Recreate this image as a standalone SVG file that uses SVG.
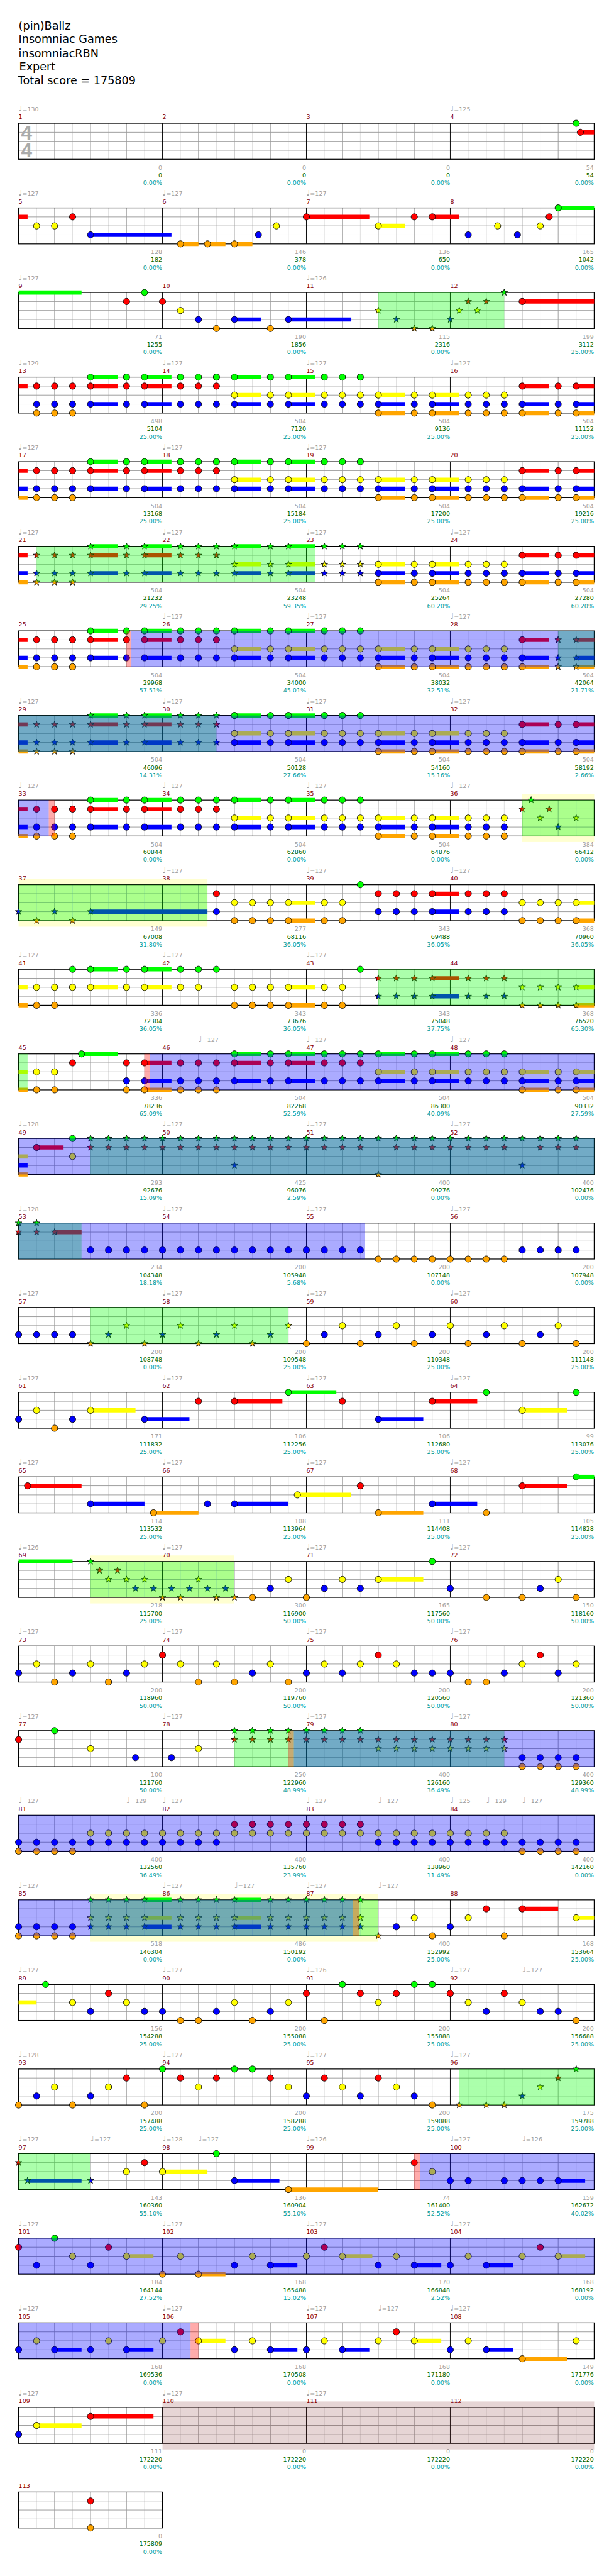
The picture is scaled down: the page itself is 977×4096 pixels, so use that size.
<svg xmlns="http://www.w3.org/2000/svg" xmlns:xlink="http://www.w3.org/1999/xlink" width="977" height="4096" viewBox="0 0 977 4096">
<style>
text{font-family:"DejaVu Sans","Liberation Sans",sans-serif;font-size:10px}
.h{font-size:18.5px;fill:#000}
.tp{fill:#a0a0a0}
.q{font-size:13px}
.mn{fill:#8b0000}
.s1{fill:#a0a0a0;text-anchor:end}
.s2{fill:#006400;text-anchor:end}
.s3{fill:#009b9b;text-anchor:end}
.ts{font-family:"Liberation Sans",sans-serif;font-weight:bold;font-size:33px;fill:#aaa}
.l3{stroke:#dcdcdc;stroke-width:1;fill:none}
.l2{stroke:#9a9a9a;stroke-width:1;fill:none}
.l1{stroke:#000;stroke-width:1;fill:none}
.bd{stroke:#000;stroke-width:1.3;fill:none}
.n{stroke:#000;stroke-width:.9}
.sG{stroke:#0f0;stroke-width:7;fill:none}
.sR{stroke:#f00;stroke-width:7;fill:none}
.sY{stroke:#ff0;stroke-width:7;fill:none}
.sB{stroke:#00f;stroke-width:7;fill:none}
.sO{stroke:#ffa500;stroke-width:7;fill:none}
.og{fill:#0f0;opacity:.33}
.ob{fill:#00f;opacity:.33}
.orr{fill:#f00;opacity:.33}
.oy{fill:#ff0;opacity:.18}
.obr{fill:#822d2d;opacity:.2}
</style>
<defs>
<g id="staff">
<path class="l3" d="M30 0V60M90 0V60M150 0V60M210 0V60M270 0V60M330 0V60M390 0V60M450 0V60M510 0V60M570 0V60M630 0V60M690 0V60M750 0V60M810 0V60M870 0V60M930 0V60"/>
<path class="l2" d="M60 0V60M120 0V60M180 0V60M300 0V60M360 0V60M420 0V60M540 0V60M600 0V60M660 0V60M780 0V60M840 0V60M900 0V60M0 15H960M0 30H960M0 45H960"/>
<path class="l1" d="M240 0V60M480 0V60M720 0V60"/>
<rect class="bd" width="960" height="60"/>
</g>
<g id="staff1">
<path class="l3" d="M30 0V60M90 0V60M150 0V60M210 0V60"/>
<path class="l2" d="M60 0V60M120 0V60M180 0V60M0 15H240M0 30H240M0 45H240"/>
<rect class="bd" width="240" height="60"/>
</g>
<circle id="G" class="n" r="5.3" fill="#0f0"/>
<circle id="R" class="n" cy="15" r="5.3" fill="#f00"/>
<circle id="Y" class="n" cy="30" r="5.3" fill="#ff0"/>
<circle id="B" class="n" cy="45" r="5.3" fill="#00f"/>
<circle id="O" class="n" cy="60" r="5.3" fill="#ffa500"/>
<polygon id="st" class="n" stroke-width=".7" points="0,-5.8 1.37,-1.87 5.52,-1.79 2.2,0.71 3.41,4.69 0,2.32 -3.41,4.69 -2.2,0.71 -5.52,-1.79 -1.37,-1.87"/>
<use id="g" href="#st" fill="#0f0"/>
<use id="r" href="#st" y="15" fill="#f00"/>
<use id="y" href="#st" y="30" fill="#ff0"/>
<use id="b" href="#st" y="45" fill="#00f"/>
<use id="o" href="#st" y="60" fill="#ffa500"/>
<g id="RBO"><use href="#R"/><use href="#B"/><use href="#O"/></g>
<g id="GRB"><use href="#G"/><use href="#R"/><use href="#B"/></g>
<g id="GYB"><use href="#G"/><use href="#Y"/><use href="#B"/></g>
<g id="YBO"><use href="#Y"/><use href="#B"/><use href="#O"/></g>
<g id="YO"><use href="#Y"/><use href="#O"/></g>
<g id="RB"><use href="#R"/><use href="#B"/></g>
<g id="GY"><use href="#G"/><use href="#Y"/></g>
<g id="BO"><use href="#B"/><use href="#O"/></g>
<g id="YB"><use href="#Y"/><use href="#B"/></g>
<g id="RY"><use href="#R"/><use href="#Y"/></g>
<g id="rbo"><use href="#r"/><use href="#b"/><use href="#o"/></g>
<g id="grb"><use href="#g"/><use href="#r"/><use href="#b"/></g>
<g id="gyb"><use href="#g"/><use href="#y"/><use href="#b"/></g>
<g id="yo"><use href="#y"/><use href="#o"/></g>
<g id="rb"><use href="#r"/><use href="#b"/></g>
<g id="gr"><use href="#g"/><use href="#r"/></g>
<g id="ry"><use href="#r"/><use href="#y"/></g>
<g id="st0"><path class="sR" d="M0 15H15"/><path class="sB" d="M0 45H15"/><path class="sO" d="M0 60H15"/></g>
<g id="c1"><use href="#RBO" x="30"/><use href="#RBO" x="60"/><use href="#RBO" x="90"/></g>
<g id="s1"><use href="#rbo" x="30"/><use href="#rbo" x="60"/><use href="#rbo" x="90"/></g>
<g id="u2"><path class="sG" d="M120 0H165M210 0H255"/><path class="sR" d="M120 15H165M210 15H255"/><path class="sB" d="M120 45H165M210 45H255"/></g>
<g id="c2"><use href="#u2"/><use href="#GRB" x="120"/><use href="#GRB" x="180"/><use href="#GRB" x="210"/><use href="#GRB" x="270"/><use href="#GRB" x="300"/><use href="#GRB" x="330"/></g>
<g id="s2"><use href="#u2"/><use href="#grb" x="120"/><use href="#grb" x="180"/><use href="#grb" x="210"/><use href="#grb" x="270"/><use href="#grb" x="300"/><use href="#grb" x="330"/></g>
<g id="u3"><path class="sG" d="M360 0H405M450 0H495"/><path class="sY" d="M360 30H405M450 30H495"/><path class="sB" d="M360 45H405M450 45H495"/></g>
<g id="c3"><use href="#u3"/><use href="#GYB" x="360"/><use href="#GYB" x="420"/><use href="#GYB" x="450"/><use href="#GYB" x="510"/><use href="#GYB" x="540"/><use href="#GYB" x="570"/></g>
<g id="s3"><use href="#u3"/><use href="#gyb" x="360"/><use href="#gyb" x="420"/><use href="#gyb" x="450"/><use href="#gyb" x="510"/><use href="#gyb" x="540"/><use href="#gyb" x="570"/></g>
<g id="c4"><path class="sY" d="M600 30H645M690 30H735"/><path class="sB" d="M600 45H645M690 45H735"/><path class="sO" d="M600 60H645M690 60H735"/><use href="#YBO" x="600"/><use href="#YBO" x="660"/><use href="#YBO" x="690"/><use href="#YBO" x="750"/><use href="#YBO" x="780"/><use href="#YBO" x="810"/></g>
<g id="u5"><path class="sR" d="M840 15H885M930 15H960"/><path class="sB" d="M840 45H885M930 45H960"/><path class="sO" d="M840 60H885M930 60H960"/></g>
<g id="c5"><use href="#u5"/><use href="#RBO" x="840"/><use href="#RBO" x="900"/><use href="#RBO" x="930"/></g>
</defs>
<rect width="977" height="4096" fill="#fff"/>
<g transform="scale(0.954)">
<g id="header">
<text class="h" x="31" y="49.3">(pin)Ballz</text>
<text class="h" x="31" y="71.7">Insomniac Games</text>
<text class="h" x="31" y="95">insomniacRBN</text>
<text class="h" x="32" y="117.7">Expert</text>
<text class="h" x="30" y="140.7">Total score = 175809</text>
</g>

<g id="row-m1" transform="translate(31,205.5)">
<use href="#staff"/>
<text class="ts" x="4" y="26.8">4</text><text class="ts" x="4" y="56.8">4</text>
<text class="mn" x="0" y="-7">1</text><text class="mn" x="240" y="-7">2</text><text class="mn" x="480" y="-7">3</text><text class="mn" x="720" y="-7">4</text>
<text class="tp" x="0" y="-20"><tspan class="q">♩</tspan>=130</text><text class="tp" x="720" y="-20"><tspan class="q">♩</tspan>=125</text>
<path class="sR" d="M937 15H960"/>
<use href="#G" x="930"/><use href="#R" x="937"/>
<text class="s1" x="239.5" y="77">0</text><text class="s2" x="239.5" y="90">0</text><text class="s3" x="239.5" y="103">0.00%</text>
<text class="s1" x="479.5" y="77">0</text><text class="s2" x="479.5" y="90">0</text><text class="s3" x="479.5" y="103">0.00%</text>
<text class="s1" x="719.5" y="77">0</text><text class="s2" x="719.5" y="90">0</text><text class="s3" x="719.5" y="103">0.00%</text>
<text class="s1" x="959.5" y="77">54</text><text class="s2" x="959.5" y="90">54</text><text class="s3" x="959.5" y="103">0.00%</text>
</g>

<g id="row-m5" transform="translate(31,346.5)">
<use href="#staff"/>
<text class="mn" x="0" y="-7">5</text><text class="mn" x="240" y="-7">6</text><text class="mn" x="480" y="-7">7</text><text class="mn" x="720" y="-7">8</text>
<text class="tp" x="0" y="-20"><tspan class="q">♩</tspan>=127</text><text class="tp" x="240" y="-20"><tspan class="q">♩</tspan>=127</text><text class="tp" x="480" y="-20"><tspan class="q">♩</tspan>=127</text>
<path class="sR" d="M0 15H15M480 15H585M690 15H735"/>
<path class="sY" d="M600 30H645"/>
<path class="sB" d="M120 45H255"/>
<path class="sO" d="M270 60H300M315 60H345M360 60H390"/>
<path class="sG" d="M900 0H960"/>
<use href="#Y" x="30"/><use href="#Y" x="60"/><use href="#R" x="90"/><use href="#B" x="120"/><use href="#O" x="270"/><use href="#O" x="315"/><use href="#O" x="360"/><use href="#B" x="400"/><use href="#Y" x="430"/><use href="#R" x="480"/><use href="#Y" x="600"/><use href="#R" x="660"/><use href="#R" x="690"/><use href="#B" x="750"/><use href="#Y" x="799"/><use href="#B" x="832"/><use href="#Y" x="870"/><use href="#R" x="885"/><use href="#G" x="900"/>
<text class="s1" x="239.5" y="77">128</text><text class="s2" x="239.5" y="90">182</text><text class="s3" x="239.5" y="103">0.00%</text>
<text class="s1" x="479.5" y="77">146</text><text class="s2" x="479.5" y="90">378</text><text class="s3" x="479.5" y="103">0.00%</text>
<text class="s1" x="719.5" y="77">136</text><text class="s2" x="719.5" y="90">650</text><text class="s3" x="719.5" y="103">0.00%</text>
<text class="s1" x="959.5" y="77">165</text><text class="s2" x="959.5" y="90">1042</text><text class="s3" x="959.5" y="103">0.00%</text>
</g>

<g id="row-m9" transform="translate(31,487.5)">
<use href="#staff"/>
<text class="mn" x="0" y="-7">9</text><text class="mn" x="240" y="-7">10</text><text class="mn" x="480" y="-7">11</text><text class="mn" x="720" y="-7">12</text>
<text class="tp" x="0" y="-20"><tspan class="q">♩</tspan>=127</text><text class="tp" x="480" y="-20"><tspan class="q">♩</tspan>=126</text>
<path class="sG" d="M0 0H105"/>
<path class="sB" d="M360 45H405M450 45H555"/>
<path class="sR" d="M840 15H960"/>
<use href="#R" x="180"/><use href="#G" x="210"/><use href="#R" x="240"/><use href="#Y" x="270"/><use href="#B" x="300"/><use href="#O" x="330"/><use href="#B" x="360"/><use href="#O" x="420"/><use href="#B" x="450"/>
<use href="#y" x="600"/><use href="#b" x="630"/><use href="#o" x="660"/><use href="#o" x="690"/><use href="#b" x="720"/><use href="#y" x="735"/><use href="#r" x="750"/><use href="#y" x="765"/><use href="#r" x="780"/><use href="#g" x="810"/>
<use href="#R" x="840"/>
<rect class="og" x="600" width="210" height="60"/>
<text class="s1" x="239.5" y="77">71</text><text class="s2" x="239.5" y="90">1255</text><text class="s3" x="239.5" y="103">0.00%</text>
<text class="s1" x="479.5" y="77">190</text><text class="s2" x="479.5" y="90">1856</text><text class="s3" x="479.5" y="103">0.00%</text>
<text class="s1" x="719.5" y="77">115</text><text class="s2" x="719.5" y="90">2316</text><text class="s3" x="719.5" y="103">0.00%</text>
<text class="s1" x="959.5" y="77">199</text><text class="s2" x="959.5" y="90">3112</text><text class="s3" x="959.5" y="103">25.00%</text>
</g>

<g id="row-m13" transform="translate(31,628.5)">
<use href="#staff"/>
<text class="mn" x="0" y="-7">13</text><text class="mn" x="240" y="-7">14</text><text class="mn" x="480" y="-7">15</text><text class="mn" x="720" y="-7">16</text>
<text class="tp" x="0" y="-20"><tspan class="q">♩</tspan>=129</text><text class="tp" x="240" y="-20"><tspan class="q">♩</tspan>=127</text><text class="tp" x="480" y="-20"><tspan class="q">♩</tspan>=127</text><text class="tp" x="720" y="-20"><tspan class="q">♩</tspan>=127</text>
<path class="sR" d="M0 15H15"/>
<use href="#c1"/><use href="#c2"/><use href="#c3"/><use href="#c4"/><use href="#c5"/>
<text class="s1" x="239.5" y="77">498</text><text class="s2" x="239.5" y="90">5104</text><text class="s3" x="239.5" y="103">25.00%</text>
<text class="s1" x="479.5" y="77">504</text><text class="s2" x="479.5" y="90">7120</text><text class="s3" x="479.5" y="103">25.00%</text>
<text class="s1" x="719.5" y="77">504</text><text class="s2" x="719.5" y="90">9136</text><text class="s3" x="719.5" y="103">25.00%</text>
<text class="s1" x="959.5" y="77">504</text><text class="s2" x="959.5" y="90">11152</text><text class="s3" x="959.5" y="103">25.00%</text>
</g>

<g id="row-m17" transform="translate(31,769.5)">
<use href="#staff"/>
<text class="mn" x="0" y="-7">17</text><text class="mn" x="240" y="-7">18</text><text class="mn" x="480" y="-7">19</text><text class="mn" x="720" y="-7">20</text>
<text class="tp" x="0" y="-20"><tspan class="q">♩</tspan>=127</text><text class="tp" x="240" y="-20"><tspan class="q">♩</tspan>=127</text><text class="tp" x="480" y="-20"><tspan class="q">♩</tspan>=127</text>
<use href="#st0"/><use href="#c1"/><use href="#c2"/><use href="#c3"/><use href="#c4"/><use href="#c5"/>
<text class="s1" x="239.5" y="77">504</text><text class="s2" x="239.5" y="90">13168</text><text class="s3" x="239.5" y="103">25.00%</text>
<text class="s1" x="479.5" y="77">504</text><text class="s2" x="479.5" y="90">15184</text><text class="s3" x="479.5" y="103">25.00%</text>
<text class="s1" x="719.5" y="77">504</text><text class="s2" x="719.5" y="90">17200</text><text class="s3" x="719.5" y="103">25.00%</text>
<text class="s1" x="959.5" y="77">504</text><text class="s2" x="959.5" y="90">19216</text><text class="s3" x="959.5" y="103">25.00%</text>
</g>

<g id="row-m21" transform="translate(31,910.5)">
<use href="#staff"/>
<text class="mn" x="0" y="-7">21</text><text class="mn" x="240" y="-7">22</text><text class="mn" x="480" y="-7">23</text><text class="mn" x="720" y="-7">24</text>
<text class="tp" x="0" y="-20"><tspan class="q">♩</tspan>=127</text><text class="tp" x="240" y="-20"><tspan class="q">♩</tspan>=127</text><text class="tp" x="480" y="-20"><tspan class="q">♩</tspan>=127</text><text class="tp" x="720" y="-20"><tspan class="q">♩</tspan>=127</text>
<use href="#st0"/><use href="#s1"/><use href="#s2"/><use href="#s3"/><use href="#c4"/><use href="#c5"/>
<rect class="og" x="30" width="465" height="60"/>
<text class="s1" x="239.5" y="77">504</text><text class="s2" x="239.5" y="90">21232</text><text class="s3" x="239.5" y="103">29.25%</text>
<text class="s1" x="479.5" y="77">504</text><text class="s2" x="479.5" y="90">23248</text><text class="s3" x="479.5" y="103">59.35%</text>
<text class="s1" x="719.5" y="77">504</text><text class="s2" x="719.5" y="90">25264</text><text class="s3" x="719.5" y="103">60.20%</text>
<text class="s1" x="959.5" y="77">504</text><text class="s2" x="959.5" y="90">27280</text><text class="s3" x="959.5" y="103">60.20%</text>
</g>

<g id="row-m25" transform="translate(31,1051.5)">
<use href="#staff"/>
<text class="mn" x="0" y="-7">25</text><text class="mn" x="240" y="-7">26</text><text class="mn" x="480" y="-7">27</text><text class="mn" x="720" y="-7">28</text>
<text class="tp" x="240" y="-20"><tspan class="q">♩</tspan>=127</text><text class="tp" x="480" y="-20"><tspan class="q">♩</tspan>=127</text><text class="tp" x="720" y="-20"><tspan class="q">♩</tspan>=127</text>
<use href="#st0"/><use href="#c1"/><use href="#c2"/><use href="#c3"/><use href="#c4"/><use href="#u5"/>
<use href="#RBO" x="840"/><use href="#rbo" x="900"/><use href="#rbo" x="930"/>
<rect class="og" x="900" width="60" height="60"/>
<rect class="ob" x="187.8" width="772.2" height="60"/>
<rect class="orr" x="180" width="7.8" height="60"/>
<text class="s1" x="239.5" y="77">504</text><text class="s2" x="239.5" y="90">29968</text><text class="s3" x="239.5" y="103">57.51%</text>
<text class="s1" x="479.5" y="77">504</text><text class="s2" x="479.5" y="90">34000</text><text class="s3" x="479.5" y="103">45.01%</text>
<text class="s1" x="719.5" y="77">504</text><text class="s2" x="719.5" y="90">38032</text><text class="s3" x="719.5" y="103">32.51%</text>
<text class="s1" x="959.5" y="77">504</text><text class="s2" x="959.5" y="90">42064</text><text class="s3" x="959.5" y="103">21.71%</text>
</g>

<g id="row-m29" transform="translate(31,1192.5)">
<use href="#staff"/>
<text class="mn" x="0" y="-7">29</text><text class="mn" x="240" y="-7">30</text><text class="mn" x="480" y="-7">31</text><text class="mn" x="720" y="-7">32</text>
<text class="tp" x="0" y="-20"><tspan class="q">♩</tspan>=127</text><text class="tp" x="240" y="-20"><tspan class="q">♩</tspan>=127</text><text class="tp" x="480" y="-20"><tspan class="q">♩</tspan>=127</text><text class="tp" x="720" y="-20"><tspan class="q">♩</tspan>=127</text>
<use href="#st0"/><use href="#s1"/><use href="#s2"/><use href="#c3"/><use href="#c4"/><use href="#c5"/>
<rect class="og" width="330" height="60"/>
<rect class="ob" width="960" height="60"/>
<text class="s1" x="239.5" y="77">504</text><text class="s2" x="239.5" y="90">46096</text><text class="s3" x="239.5" y="103">14.31%</text>
<text class="s1" x="479.5" y="77">504</text><text class="s2" x="479.5" y="90">50128</text><text class="s3" x="479.5" y="103">27.66%</text>
<text class="s1" x="719.5" y="77">504</text><text class="s2" x="719.5" y="90">54160</text><text class="s3" x="719.5" y="103">15.16%</text>
<text class="s1" x="959.5" y="77">504</text><text class="s2" x="959.5" y="90">58192</text><text class="s3" x="959.5" y="103">2.66%</text>
</g>

<g id="row-m33" transform="translate(31,1333.5)">
<rect class="oy" x="840" y="-10" width="120" height="80"/>
<use href="#staff"/>
<text class="mn" x="0" y="-7">33</text><text class="mn" x="240" y="-7">34</text><text class="mn" x="480" y="-7">35</text><text class="mn" x="720" y="-7">36</text>
<text class="tp" x="0" y="-20"><tspan class="q">♩</tspan>=127</text><text class="tp" x="240" y="-20"><tspan class="q">♩</tspan>=127</text><text class="tp" x="480" y="-20"><tspan class="q">♩</tspan>=127</text><text class="tp" x="720" y="-20"><tspan class="q">♩</tspan>=127</text>
<use href="#st0"/><use href="#c1"/><use href="#c2"/><use href="#c3"/><use href="#c4"/>
<use href="#r" x="840"/><use href="#g" x="855"/><use href="#y" x="870"/><use href="#r" x="885"/><use href="#b" x="900"/><use href="#y" x="930"/>
<rect class="og" x="840" width="120" height="60"/>
<rect class="ob" width="50.3" height="60"/>
<rect class="orr" x="50.3" width="9.7" height="60"/>
<text class="s1" x="239.5" y="77">504</text><text class="s2" x="239.5" y="90">60844</text><text class="s3" x="239.5" y="103">0.00%</text>
<text class="s1" x="479.5" y="77">504</text><text class="s2" x="479.5" y="90">62860</text><text class="s3" x="479.5" y="103">0.00%</text>
<text class="s1" x="719.5" y="77">504</text><text class="s2" x="719.5" y="90">64876</text><text class="s3" x="719.5" y="103">0.00%</text>
<text class="s1" x="959.5" y="77">384</text><text class="s2" x="959.5" y="90">66412</text><text class="s3" x="959.5" y="103">0.00%</text>
</g>

<g id="row-m37" transform="translate(31,1474.5)">
<rect class="oy" y="-10" width="315" height="80"/>
<use href="#staff"/>
<text class="mn" x="0" y="-7">37</text><text class="mn" x="240" y="-7">38</text><text class="mn" x="480" y="-7">39</text><text class="mn" x="720" y="-7">40</text>
<text class="tp" x="240" y="-20"><tspan class="q">♩</tspan>=127</text><text class="tp" x="480" y="-20"><tspan class="q">♩</tspan>=127</text><text class="tp" x="720" y="-20"><tspan class="q">♩</tspan>=127</text>
<path class="sB" d="M120 45H315M690 45H735"/>
<path class="sY" d="M450 30H495M930 30H960"/>
<path class="sO" d="M450 60H495M930 60H960"/>
<path class="sR" d="M690 15H735"/>
<use href="#b" x="0"/><use href="#o" x="30"/><use href="#b" x="60"/><use href="#o" x="90"/><use href="#b" x="120"/>
<use href="#RB" x="330"/><use href="#YO" x="360"/><use href="#YO" x="390"/><use href="#YO" x="420"/><use href="#YO" x="450"/><use href="#YO" x="510"/><use href="#YO" x="540"/><use href="#G" x="570"/>
<use href="#RB" x="600"/><use href="#RB" x="630"/><use href="#RB" x="660"/><use href="#RB" x="690"/><use href="#RB" x="750"/><use href="#RB" x="780"/><use href="#RB" x="810"/>
<use href="#YO" x="840"/><use href="#YO" x="870"/><use href="#YO" x="900"/><use href="#YO" x="930"/>
<rect class="og" width="315" height="60"/>
<text class="s1" x="239.5" y="77">149</text><text class="s2" x="239.5" y="90">67008</text><text class="s3" x="239.5" y="103">31.80%</text>
<text class="s1" x="479.5" y="77">277</text><text class="s2" x="479.5" y="90">68116</text><text class="s3" x="479.5" y="103">36.05%</text>
<text class="s1" x="719.5" y="77">343</text><text class="s2" x="719.5" y="90">69488</text><text class="s3" x="719.5" y="103">36.05%</text>
<text class="s1" x="959.5" y="77">368</text><text class="s2" x="959.5" y="90">70960</text><text class="s3" x="959.5" y="103">36.05%</text>
</g>

<g id="row-m41" transform="translate(31,1615.5)">
<use href="#staff"/>
<text class="mn" x="0" y="-7">41</text><text class="mn" x="240" y="-7">42</text><text class="mn" x="480" y="-7">43</text><text class="mn" x="720" y="-7">44</text>
<text class="tp" x="0" y="-20"><tspan class="q">♩</tspan>=127</text><text class="tp" x="240" y="-20"><tspan class="q">♩</tspan>=127</text><text class="tp" x="480" y="-20"><tspan class="q">♩</tspan>=127</text>
<path class="sY" d="M0 30H15M120 30H165M210 30H255M450 30H495M930 30H960"/>
<path class="sO" d="M0 60H15M450 60H495M930 60H960"/>
<path class="sG" d="M120 0H165M210 0H255"/>
<path class="sR" d="M690 15H735"/>
<path class="sB" d="M690 45H735"/>
<use href="#YO" x="30"/><use href="#YO" x="60"/><use href="#GY" x="90"/><use href="#GY" x="120"/><use href="#GY" x="180"/><use href="#GY" x="210"/><use href="#GY" x="270"/><use href="#GY" x="300"/><use href="#G" x="330"/>
<use href="#YO" x="360"/><use href="#YO" x="390"/><use href="#YO" x="420"/><use href="#YO" x="450"/><use href="#YO" x="510"/><use href="#YO" x="540"/><use href="#G" x="570"/>
<use href="#rb" x="600"/><use href="#rb" x="630"/><use href="#rb" x="660"/><use href="#rb" x="690"/><use href="#rb" x="750"/><use href="#rb" x="780"/><use href="#rb" x="810"/>
<use href="#yo" x="840"/><use href="#yo" x="870"/><use href="#yo" x="900"/><use href="#yo" x="930"/>
<rect class="og" x="600" width="360" height="60"/>
<text class="s1" x="239.5" y="77">336</text><text class="s2" x="239.5" y="90">72304</text><text class="s3" x="239.5" y="103">36.05%</text>
<text class="s1" x="479.5" y="77">343</text><text class="s2" x="479.5" y="90">73676</text><text class="s3" x="479.5" y="103">36.05%</text>
<text class="s1" x="719.5" y="77">343</text><text class="s2" x="719.5" y="90">75048</text><text class="s3" x="719.5" y="103">37.75%</text>
<text class="s1" x="959.5" y="77">368</text><text class="s2" x="959.5" y="90">76520</text><text class="s3" x="959.5" y="103">65.30%</text>
</g>

<g id="row-m45" transform="translate(31,1756.5)">
<use href="#staff"/>
<text class="mn" x="0" y="-7">45</text><text class="mn" x="240" y="-7">46</text><text class="mn" x="480" y="-7">47</text><text class="mn" x="720" y="-7">48</text>
<text class="tp" x="300" y="-20"><tspan class="q">♩</tspan>=127</text><text class="tp" x="480" y="-20"><tspan class="q">♩</tspan>=127</text><text class="tp" x="720" y="-20"><tspan class="q">♩</tspan>=127</text>
<path class="sY" d="M0 30H15M600 30H645M690 30H735M840 30H885M930 30H960"/>
<path class="sO" d="M0 60H15M210 60H255M840 60H885M930 60H960"/>
<path class="sG" d="M105 0H165M360 0H405M450 0H495M600 0H645M690 0H735"/>
<path class="sR" d="M210 15H255M360 15H405M450 15H495"/>
<path class="sB" d="M210 45H255M360 45H405M450 45H495M600 45H645M690 45H735M840 45H885M930 45H960"/>
<use href="#YO" x="30"/><use href="#YO" x="60"/><use href="#R" x="90"/><use href="#G" x="105"/>
<use href="#RBO" x="180"/><use href="#RBO" x="210"/><use href="#RBO" x="270"/><use href="#RBO" x="300"/><use href="#RBO" x="330"/>
<use href="#GRB" x="360"/><use href="#GRB" x="420"/><use href="#GRB" x="450"/><use href="#GRB" x="510"/><use href="#GRB" x="540"/><use href="#GRB" x="570"/>
<use href="#GYB" x="600"/><use href="#GYB" x="660"/><use href="#GYB" x="690"/><use href="#GYB" x="750"/><use href="#GYB" x="780"/><use href="#GYB" x="810"/>
<use href="#YBO" x="840"/><use href="#YBO" x="900"/><use href="#YBO" x="930"/>
<rect class="og" width="15" height="60"/>
<rect class="ob" x="218.7" width="741.3" height="60"/>
<rect class="orr" x="209.6" width="9.1" height="60"/>
<text class="s1" x="239.5" y="77">336</text><text class="s2" x="239.5" y="90">78236</text><text class="s3" x="239.5" y="103">65.09%</text>
<text class="s1" x="479.5" y="77">504</text><text class="s2" x="479.5" y="90">82268</text><text class="s3" x="479.5" y="103">52.59%</text>
<text class="s1" x="719.5" y="77">504</text><text class="s2" x="719.5" y="90">86300</text><text class="s3" x="719.5" y="103">40.09%</text>
<text class="s1" x="959.5" y="77">504</text><text class="s2" x="959.5" y="90">90332</text><text class="s3" x="959.5" y="103">27.59%</text>
</g>

<g id="row-m49" transform="translate(31,1897.5)">
<use href="#staff"/>
<text class="mn" x="0" y="-7">49</text><text class="mn" x="240" y="-7">50</text><text class="mn" x="480" y="-7">51</text><text class="mn" x="720" y="-7">52</text>
<text class="tp" x="0" y="-20"><tspan class="q">♩</tspan>=128</text><text class="tp" x="240" y="-20"><tspan class="q">♩</tspan>=127</text><text class="tp" x="480" y="-20"><tspan class="q">♩</tspan>=127</text><text class="tp" x="720" y="-20"><tspan class="q">♩</tspan>=127</text>
<path class="sY" d="M0 30H15"/><path class="sB" d="M0 45H15"/><path class="sO" d="M0 60H15"/><path class="sR" d="M30 15H75"/>
<use href="#R" x="30"/><use href="#GY" x="90"/>
<use href="#gr" x="120"/><use href="#gr" x="150"/><use href="#gr" x="180"/><use href="#gr" x="210"/><use href="#gr" x="240"/><use href="#gr" x="270"/><use href="#gr" x="300"/><use href="#gr" x="330"/><use href="#gr" x="360"/><use href="#gr" x="390"/><use href="#gr" x="420"/><use href="#gr" x="450"/><use href="#gr" x="480"/><use href="#gr" x="510"/><use href="#gr" x="540"/><use href="#gr" x="570"/>
<use href="#g" x="600"/><use href="#gr" x="630"/><use href="#gr" x="660"/><use href="#gr" x="690"/><use href="#gr" x="720"/><use href="#gr" x="750"/><use href="#gr" x="780"/><use href="#gr" x="810"/><use href="#g" x="840"/><use href="#gr" x="870"/><use href="#gr" x="900"/><use href="#gr" x="930"/>
<use href="#b" x="360"/><use href="#b" x="840"/><use href="#o" x="600"/>
<rect class="og" x="120" width="840" height="60"/>
<rect class="ob" width="960" height="60"/>
<text class="s1" x="239.5" y="77">293</text><text class="s2" x="239.5" y="90">92676</text><text class="s3" x="239.5" y="103">15.09%</text>
<text class="s1" x="479.5" y="77">425</text><text class="s2" x="479.5" y="90">96076</text><text class="s3" x="479.5" y="103">2.59%</text>
<text class="s1" x="719.5" y="77">400</text><text class="s2" x="719.5" y="90">99276</text><text class="s3" x="719.5" y="103">0.00%</text>
<text class="s1" x="959.5" y="77">400</text><text class="s2" x="959.5" y="90">102476</text><text class="s3" x="959.5" y="103">0.00%</text>
</g>

<g id="row-m53" transform="translate(31,2038.5)">
<use href="#staff"/>
<text class="mn" x="0" y="-7">53</text><text class="mn" x="240" y="-7">54</text><text class="mn" x="480" y="-7">55</text><text class="mn" x="720" y="-7">56</text>
<text class="tp" x="0" y="-20"><tspan class="q">♩</tspan>=128</text><text class="tp" x="240" y="-20"><tspan class="q">♩</tspan>=127</text><text class="tp" x="480" y="-20"><tspan class="q">♩</tspan>=127</text><text class="tp" x="720" y="-20"><tspan class="q">♩</tspan>=127</text>
<path class="sR" d="M60 15H105"/>
<use href="#gr" x="0"/><use href="#gr" x="30"/><use href="#r" x="60"/>
<use href="#B" x="120"/><use href="#B" x="150"/><use href="#B" x="180"/><use href="#B" x="210"/><use href="#B" x="240"/><use href="#B" x="270"/><use href="#B" x="300"/><use href="#B" x="330"/><use href="#B" x="360"/><use href="#B" x="390"/><use href="#B" x="420"/><use href="#B" x="450"/><use href="#B" x="480"/><use href="#B" x="510"/><use href="#B" x="540"/><use href="#B" x="570"/>
<use href="#O" x="600"/><use href="#O" x="630"/><use href="#O" x="660"/><use href="#O" x="690"/><use href="#O" x="720"/><use href="#O" x="750"/><use href="#O" x="780"/><use href="#O" x="810"/>
<use href="#B" x="840"/><use href="#B" x="870"/><use href="#B" x="900"/><use href="#B" x="930"/>
<rect class="og" width="105" height="60"/>
<rect class="ob" width="577.8" height="60"/>
<text class="s1" x="239.5" y="77">234</text><text class="s2" x="239.5" y="90">104348</text><text class="s3" x="239.5" y="103">18.18%</text>
<text class="s1" x="479.5" y="77">200</text><text class="s2" x="479.5" y="90">105948</text><text class="s3" x="479.5" y="103">5.68%</text>
<text class="s1" x="719.5" y="77">200</text><text class="s2" x="719.5" y="90">107148</text><text class="s3" x="719.5" y="103">0.00%</text>
<text class="s1" x="959.5" y="77">200</text><text class="s2" x="959.5" y="90">107948</text><text class="s3" x="959.5" y="103">0.00%</text>
</g>

<g id="row-m57" transform="translate(31,2179.5)">
<use href="#staff"/>
<text class="mn" x="0" y="-7">57</text><text class="mn" x="240" y="-7">58</text><text class="mn" x="480" y="-7">59</text><text class="mn" x="720" y="-7">60</text>
<text class="tp" x="0" y="-20"><tspan class="q">♩</tspan>=127</text><text class="tp" x="240" y="-20"><tspan class="q">♩</tspan>=127</text><text class="tp" x="480" y="-20"><tspan class="q">♩</tspan>=127</text><text class="tp" x="720" y="-20"><tspan class="q">♩</tspan>=127</text>
<use href="#B" x="0"/><use href="#B" x="30"/><use href="#B" x="60"/><use href="#B" x="90"/>
<use href="#o" x="120"/><use href="#b" x="150"/><use href="#y" x="180"/><use href="#o" x="210"/><use href="#b" x="240"/><use href="#y" x="270"/><use href="#o" x="300"/><use href="#b" x="330"/><use href="#y" x="360"/><use href="#o" x="390"/><use href="#b" x="420"/><use href="#y" x="450"/>
<use href="#O" x="480"/><use href="#B" x="510"/><use href="#Y" x="540"/><use href="#O" x="570"/><use href="#B" x="600"/><use href="#Y" x="630"/><use href="#O" x="660"/><use href="#B" x="690"/><use href="#Y" x="720"/><use href="#O" x="750"/><use href="#B" x="780"/><use href="#Y" x="810"/><use href="#O" x="840"/><use href="#B" x="870"/><use href="#Y" x="900"/><use href="#O" x="930"/>
<rect class="og" x="120" width="330" height="60"/>
<text class="s1" x="239.5" y="77">200</text><text class="s2" x="239.5" y="90">108748</text><text class="s3" x="239.5" y="103">0.00%</text>
<text class="s1" x="479.5" y="77">200</text><text class="s2" x="479.5" y="90">109548</text><text class="s3" x="479.5" y="103">25.00%</text>
<text class="s1" x="719.5" y="77">200</text><text class="s2" x="719.5" y="90">110348</text><text class="s3" x="719.5" y="103">25.00%</text>
<text class="s1" x="959.5" y="77">200</text><text class="s2" x="959.5" y="90">111148</text><text class="s3" x="959.5" y="103">25.00%</text>
</g>

<g id="row-m61" transform="translate(31,2320.5)">
<use href="#staff"/>
<text class="mn" x="0" y="-7">61</text><text class="mn" x="240" y="-7">62</text><text class="mn" x="480" y="-7">63</text><text class="mn" x="720" y="-7">64</text>
<text class="tp" x="0" y="-20"><tspan class="q">♩</tspan>=127</text><text class="tp" x="240" y="-20"><tspan class="q">♩</tspan>=127</text><text class="tp" x="480" y="-20"><tspan class="q">♩</tspan>=127</text><text class="tp" x="720" y="-20"><tspan class="q">♩</tspan>=127</text>
<path class="sY" d="M120 30H195M840 30H915"/>
<path class="sB" d="M210 45H285M600 45H675"/>
<path class="sR" d="M360 15H440M690 15H765"/>
<path class="sG" d="M450 0H530"/>
<use href="#B" x="0"/><use href="#Y" x="30"/><use href="#O" x="60"/><use href="#B" x="90"/><use href="#Y" x="120"/><use href="#B" x="210"/><use href="#R" x="300"/><use href="#R" x="360"/><use href="#G" x="450"/><use href="#R" x="540"/><use href="#B" x="600"/><use href="#R" x="690"/><use href="#G" x="780"/><use href="#Y" x="840"/><use href="#G" x="930"/>
<text class="s1" x="239.5" y="77">171</text><text class="s2" x="239.5" y="90">111832</text><text class="s3" x="239.5" y="103">25.00%</text>
<text class="s1" x="479.5" y="77">106</text><text class="s2" x="479.5" y="90">112256</text><text class="s3" x="479.5" y="103">25.00%</text>
<text class="s1" x="719.5" y="77">106</text><text class="s2" x="719.5" y="90">112680</text><text class="s3" x="719.5" y="103">25.00%</text>
<text class="s1" x="959.5" y="77">99</text><text class="s2" x="959.5" y="90">113076</text><text class="s3" x="959.5" y="103">25.00%</text>
</g>

<g id="row-m65" transform="translate(31,2461.5)">
<use href="#staff"/>
<text class="mn" x="0" y="-7">65</text><text class="mn" x="240" y="-7">66</text><text class="mn" x="480" y="-7">67</text><text class="mn" x="720" y="-7">68</text>
<text class="tp" x="0" y="-20"><tspan class="q">♩</tspan>=127</text><text class="tp" x="240" y="-20"><tspan class="q">♩</tspan>=127</text><text class="tp" x="480" y="-20"><tspan class="q">♩</tspan>=127</text><text class="tp" x="720" y="-20"><tspan class="q">♩</tspan>=127</text>
<path class="sR" d="M15 15H105M840 15H915"/>
<path class="sB" d="M120 45H210M360 45H450M690 45H765"/>
<path class="sO" d="M225 60H300M600 60H675"/>
<path class="sY" d="M465 30H555"/>
<path class="sG" d="M930 0H960"/>
<use href="#R" x="15"/><use href="#B" x="120"/><use href="#O" x="225"/><use href="#B" x="315"/><use href="#B" x="360"/><use href="#Y" x="465"/><use href="#R" x="570"/><use href="#O" x="600"/><use href="#B" x="690"/><use href="#O" x="780"/><use href="#R" x="840"/><use href="#G" x="930"/>
<text class="s1" x="239.5" y="77">114</text><text class="s2" x="239.5" y="90">113532</text><text class="s3" x="239.5" y="103">25.00%</text>
<text class="s1" x="479.5" y="77">108</text><text class="s2" x="479.5" y="90">113964</text><text class="s3" x="479.5" y="103">25.00%</text>
<text class="s1" x="719.5" y="77">111</text><text class="s2" x="719.5" y="90">114408</text><text class="s3" x="719.5" y="103">25.00%</text>
<text class="s1" x="959.5" y="77">105</text><text class="s2" x="959.5" y="90">114828</text><text class="s3" x="959.5" y="103">25.00%</text>
</g>

<g id="row-m69" transform="translate(31,2602.5)">
<rect class="oy" x="120" y="-10" width="240" height="80"/>
<use href="#staff"/>
<text class="mn" x="0" y="-7">69</text><text class="mn" x="240" y="-7">70</text><text class="mn" x="480" y="-7">71</text><text class="mn" x="720" y="-7">72</text>
<text class="tp" x="0" y="-20"><tspan class="q">♩</tspan>=126</text><text class="tp" x="240" y="-20"><tspan class="q">♩</tspan>=127</text><text class="tp" x="480" y="-20"><tspan class="q">♩</tspan>=127</text><text class="tp" x="720" y="-20"><tspan class="q">♩</tspan>=127</text>
<path class="sG" d="M0 0H90"/>
<path class="sY" d="M600 30H675"/>
<use href="#g" x="120"/><use href="#r" x="135"/><use href="#y" x="150"/><use href="#r" x="165"/><use href="#y" x="180"/><use href="#b" x="195"/><use href="#y" x="210"/><use href="#b" x="225"/><use href="#o" x="240"/><use href="#b" x="255"/><use href="#o" x="270"/><use href="#b" x="285"/><use href="#y" x="300"/><use href="#b" x="315"/><use href="#o" x="330"/><use href="#b" x="345"/><use href="#o" x="360"/>
<use href="#O" x="390"/><use href="#B" x="420"/><use href="#Y" x="450"/><use href="#O" x="480"/><use href="#B" x="510"/><use href="#Y" x="540"/><use href="#B" x="570"/><use href="#Y" x="600"/><use href="#G" x="690"/><use href="#B" x="720"/><use href="#O" x="780"/><use href="#O" x="840"/><use href="#B" x="870"/><use href="#Y" x="900"/><use href="#O" x="930"/>
<rect class="og" x="120" width="240" height="60"/>
<text class="s1" x="239.5" y="77">218</text><text class="s2" x="239.5" y="90">115700</text><text class="s3" x="239.5" y="103">25.00%</text>
<text class="s1" x="479.5" y="77">300</text><text class="s2" x="479.5" y="90">116900</text><text class="s3" x="479.5" y="103">50.00%</text>
<text class="s1" x="719.5" y="77">165</text><text class="s2" x="719.5" y="90">117560</text><text class="s3" x="719.5" y="103">50.00%</text>
<text class="s1" x="959.5" y="77">150</text><text class="s2" x="959.5" y="90">118160</text><text class="s3" x="959.5" y="103">50.00%</text>
</g>

<g id="row-m73" transform="translate(31,2743.5)">
<use href="#staff"/>
<text class="mn" x="0" y="-7">73</text><text class="mn" x="240" y="-7">74</text><text class="mn" x="480" y="-7">75</text><text class="mn" x="720" y="-7">76</text>
<text class="tp" x="0" y="-20"><tspan class="q">♩</tspan>=127</text><text class="tp" x="240" y="-20"><tspan class="q">♩</tspan>=127</text><text class="tp" x="480" y="-20"><tspan class="q">♩</tspan>=127</text><text class="tp" x="720" y="-20"><tspan class="q">♩</tspan>=127</text>
<use href="#B" x="0"/><use href="#Y" x="30"/><use href="#O" x="60"/><use href="#B" x="90"/><use href="#Y" x="120"/><use href="#O" x="150"/><use href="#B" x="180"/><use href="#Y" x="210"/><use href="#R" x="240"/><use href="#Y" x="270"/><use href="#O" x="300"/><use href="#Y" x="330"/><use href="#O" x="360"/><use href="#B" x="390"/><use href="#Y" x="420"/><use href="#O" x="450"/>
<use href="#B" x="480"/><use href="#Y" x="510"/><use href="#B" x="540"/><use href="#Y" x="570"/><use href="#R" x="600"/><use href="#Y" x="630"/><use href="#B" x="660"/><use href="#B" x="690"/><use href="#B" x="720"/><use href="#O" x="750"/><use href="#O" x="780"/><use href="#B" x="810"/><use href="#Y" x="840"/><use href="#R" x="870"/><use href="#B" x="900"/><use href="#Y" x="930"/>
<text class="s1" x="239.5" y="77">200</text><text class="s2" x="239.5" y="90">118960</text><text class="s3" x="239.5" y="103">50.00%</text>
<text class="s1" x="479.5" y="77">200</text><text class="s2" x="479.5" y="90">119760</text><text class="s3" x="479.5" y="103">50.00%</text>
<text class="s1" x="719.5" y="77">200</text><text class="s2" x="719.5" y="90">120560</text><text class="s3" x="719.5" y="103">50.00%</text>
<text class="s1" x="959.5" y="77">200</text><text class="s2" x="959.5" y="90">121360</text><text class="s3" x="959.5" y="103">50.00%</text>
</g>

<g id="row-m77" transform="translate(31,2884.5)">
<use href="#staff"/>
<text class="mn" x="0" y="-7">77</text><text class="mn" x="240" y="-7">78</text><text class="mn" x="480" y="-7">79</text><text class="mn" x="720" y="-7">80</text>
<text class="tp" x="0" y="-20"><tspan class="q">♩</tspan>=127</text><text class="tp" x="240" y="-20"><tspan class="q">♩</tspan>=127</text><text class="tp" x="480" y="-20"><tspan class="q">♩</tspan>=127</text><text class="tp" x="720" y="-20"><tspan class="q">♩</tspan>=127</text>
<use href="#R" x="0"/><use href="#G" x="60"/><use href="#Y" x="120"/><use href="#B" x="195"/><use href="#B" x="255"/><use href="#Y" x="300"/>
<use href="#gr" x="360"/><use href="#gr" x="390"/><use href="#gr" x="420"/><use href="#gr" x="450"/><use href="#gr" x="480"/><use href="#gr" x="510"/><use href="#gr" x="540"/><use href="#gr" x="570"/>
<use href="#ry" x="600"/><use href="#ry" x="630"/><use href="#ry" x="660"/><use href="#ry" x="690"/><use href="#ry" x="720"/><use href="#ry" x="750"/><use href="#ry" x="780"/><use href="#ry" x="810"/>
<use href="#BO" x="840"/><use href="#BO" x="870"/><use href="#BO" x="900"/><use href="#BO" x="930"/>
<rect class="og" x="360" width="450" height="60"/>
<rect class="ob" x="459" width="501" height="60"/>
<rect class="orr" x="450" width="9" height="60"/>
<text class="s1" x="239.5" y="77">100</text><text class="s2" x="239.5" y="90">121760</text><text class="s3" x="239.5" y="103">50.00%</text>
<text class="s1" x="479.5" y="77">250</text><text class="s2" x="479.5" y="90">122960</text><text class="s3" x="479.5" y="103">48.99%</text>
<text class="s1" x="719.5" y="77">400</text><text class="s2" x="719.5" y="90">126160</text><text class="s3" x="719.5" y="103">36.49%</text>
<text class="s1" x="959.5" y="77">400</text><text class="s2" x="959.5" y="90">129360</text><text class="s3" x="959.5" y="103">48.99%</text>
</g>

<g id="row-m81" transform="translate(31,3025.5)">
<use href="#staff"/>
<text class="mn" x="0" y="-7">81</text><text class="mn" x="240" y="-7">82</text><text class="mn" x="480" y="-7">83</text><text class="mn" x="720" y="-7">84</text>
<text class="tp" x="0" y="-20"><tspan class="q">♩</tspan>=127</text><text class="tp" x="180" y="-20"><tspan class="q">♩</tspan>=129</text><text class="tp" x="240" y="-20"><tspan class="q">♩</tspan>=127</text><text class="tp" x="480" y="-20"><tspan class="q">♩</tspan>=127</text><text class="tp" x="600" y="-20"><tspan class="q">♩</tspan>=127</text><text class="tp" x="720" y="-20"><tspan class="q">♩</tspan>=125</text><text class="tp" x="780" y="-20"><tspan class="q">♩</tspan>=129</text><text class="tp" x="840" y="-20"><tspan class="q">♩</tspan>=127</text>
<use href="#BO" x="0"/><use href="#BO" x="30"/><use href="#BO" x="60"/><use href="#BO" x="90"/>
<use href="#YB" x="120"/><use href="#YB" x="150"/><use href="#YB" x="180"/><use href="#YB" x="210"/><use href="#YB" x="240"/><use href="#YB" x="270"/><use href="#YB" x="300"/><use href="#YB" x="330"/>
<use href="#RY" x="360"/><use href="#RY" x="390"/><use href="#RY" x="420"/><use href="#RY" x="450"/><use href="#RY" x="480"/><use href="#RY" x="510"/><use href="#RY" x="540"/><use href="#RY" x="570"/>
<use href="#YB" x="600"/><use href="#YB" x="630"/><use href="#YB" x="660"/><use href="#YB" x="690"/><use href="#YB" x="720"/><use href="#YB" x="750"/><use href="#YB" x="780"/><use href="#YB" x="810"/>
<use href="#BO" x="840"/><use href="#BO" x="870"/><use href="#BO" x="900"/><use href="#BO" x="930"/>
<rect class="ob" width="960" height="60"/>
<text class="s1" x="239.5" y="77">400</text><text class="s2" x="239.5" y="90">132560</text><text class="s3" x="239.5" y="103">36.49%</text>
<text class="s1" x="479.5" y="77">400</text><text class="s2" x="479.5" y="90">135760</text><text class="s3" x="479.5" y="103">23.99%</text>
<text class="s1" x="719.5" y="77">400</text><text class="s2" x="719.5" y="90">138960</text><text class="s3" x="719.5" y="103">11.49%</text>
<text class="s1" x="959.5" y="77">400</text><text class="s2" x="959.5" y="90">142160</text><text class="s3" x="959.5" y="103">0.00%</text>
</g>

<g id="row-m85" transform="translate(31,3166.5)">
<rect class="oy" x="120" y="-10" width="480" height="80"/>
<use href="#staff"/>
<text class="mn" x="0" y="-7">85</text><text class="mn" x="240" y="-7">86</text><text class="mn" x="480" y="-7">87</text><text class="mn" x="720" y="-7">88</text>
<text class="tp" x="0" y="-20"><tspan class="q">♩</tspan>=127</text><text class="tp" x="240" y="-20"><tspan class="q">♩</tspan>=127</text><text class="tp" x="360" y="-20"><tspan class="q">♩</tspan>=127</text><text class="tp" x="480" y="-20"><tspan class="q">♩</tspan>=127</text><text class="tp" x="600" y="-20"><tspan class="q">♩</tspan>=127</text>
<path class="sG" d="M210 0H255M360 0H405"/>
<path class="sY" d="M210 30H255M360 30H405M930 30H960"/>
<path class="sB" d="M210 45H255M360 45H405"/>
<path class="sR" d="M840 15H900"/>
<use href="#BO" x="0"/><use href="#BO" x="30"/><use href="#BO" x="60"/><use href="#BO" x="90"/>
<use href="#gyb" x="120"/><use href="#gyb" x="150"/><use href="#gyb" x="180"/><use href="#gyb" x="210"/><use href="#gyb" x="270"/><use href="#gyb" x="300"/><use href="#gyb" x="330"/><use href="#gyb" x="360"/><use href="#gyb" x="420"/><use href="#gyb" x="450"/><use href="#gyb" x="480"/><use href="#gyb" x="510"/><use href="#gyb" x="540"/><use href="#gyb" x="570"/><use href="#o" x="600"/>
<use href="#B" x="630"/><use href="#Y" x="660"/><use href="#O" x="690"/><use href="#B" x="720"/><use href="#Y" x="750"/><use href="#R" x="780"/><use href="#O" x="810"/><use href="#R" x="840"/><use href="#Y" x="930"/>
<rect class="og" x="120" width="480" height="60"/>
<rect class="ob" width="557.7" height="60"/>
<rect class="orr" x="557.7" width="10.5" height="60"/>
<text class="s1" x="239.5" y="77">518</text><text class="s2" x="239.5" y="90">146304</text><text class="s3" x="239.5" y="103">0.00%</text>
<text class="s1" x="479.5" y="77">486</text><text class="s2" x="479.5" y="90">150192</text><text class="s3" x="479.5" y="103">0.00%</text>
<text class="s1" x="719.5" y="77">400</text><text class="s2" x="719.5" y="90">152992</text><text class="s3" x="719.5" y="103">25.00%</text>
<text class="s1" x="959.5" y="77">168</text><text class="s2" x="959.5" y="90">153664</text><text class="s3" x="959.5" y="103">25.00%</text>
</g>

<g id="row-m89" transform="translate(31,3307.5)">
<use href="#staff"/>
<text class="mn" x="0" y="-7">89</text><text class="mn" x="240" y="-7">90</text><text class="mn" x="480" y="-7">91</text><text class="mn" x="720" y="-7">92</text>
<text class="tp" x="0" y="-20"><tspan class="q">♩</tspan>=127</text><text class="tp" x="240" y="-20"><tspan class="q">♩</tspan>=127</text><text class="tp" x="480" y="-20"><tspan class="q">♩</tspan>=126</text><text class="tp" x="720" y="-20"><tspan class="q">♩</tspan>=127</text><text class="tp" x="840" y="-20"><tspan class="q">♩</tspan>=127</text>
<path class="sY" d="M0 30H30"/>
<use href="#G" x="45"/><use href="#Y" x="90"/><use href="#B" x="120"/><use href="#R" x="150"/><use href="#Y" x="180"/><use href="#B" x="210"/><use href="#B" x="240"/><use href="#O" x="270"/><use href="#O" x="300"/><use href="#B" x="330"/><use href="#Y" x="360"/><use href="#O" x="390"/><use href="#B" x="420"/><use href="#Y" x="450"/>
<use href="#R" x="480"/><use href="#O" x="510"/><use href="#G" x="540"/><use href="#R" x="570"/><use href="#Y" x="600"/><use href="#R" x="630"/><use href="#G" x="660"/><use href="#G" x="690"/><use href="#R" x="720"/><use href="#Y" x="750"/><use href="#B" x="780"/><use href="#R" x="810"/><use href="#Y" x="840"/><use href="#B" x="870"/><use href="#B" x="900"/><use href="#O" x="930"/>
<text class="s1" x="239.5" y="77">156</text><text class="s2" x="239.5" y="90">154288</text><text class="s3" x="239.5" y="103">25.00%</text>
<text class="s1" x="479.5" y="77">200</text><text class="s2" x="479.5" y="90">155088</text><text class="s3" x="479.5" y="103">25.00%</text>
<text class="s1" x="719.5" y="77">200</text><text class="s2" x="719.5" y="90">155888</text><text class="s3" x="719.5" y="103">25.00%</text>
<text class="s1" x="959.5" y="77">200</text><text class="s2" x="959.5" y="90">156688</text><text class="s3" x="959.5" y="103">25.00%</text>
</g>

<g id="row-m93" transform="translate(31,3448.5)">
<use href="#staff"/>
<text class="mn" x="0" y="-7">93</text><text class="mn" x="240" y="-7">94</text><text class="mn" x="480" y="-7">95</text><text class="mn" x="720" y="-7">96</text>
<text class="tp" x="0" y="-20"><tspan class="q">♩</tspan>=128</text><text class="tp" x="240" y="-20"><tspan class="q">♩</tspan>=127</text><text class="tp" x="480" y="-20"><tspan class="q">♩</tspan>=127</text><text class="tp" x="720" y="-20"><tspan class="q">♩</tspan>=127</text>
<use href="#O" x="0"/><use href="#B" x="30"/><use href="#Y" x="60"/><use href="#O" x="90"/><use href="#B" x="120"/><use href="#Y" x="150"/><use href="#R" x="180"/><use href="#O" x="210"/><use href="#G" x="240"/><use href="#R" x="270"/><use href="#Y" x="300"/><use href="#R" x="330"/><use href="#G" x="360"/><use href="#G" x="390"/><use href="#R" x="420"/><use href="#Y" x="450"/>
<use href="#B" x="480"/><use href="#R" x="510"/><use href="#Y" x="540"/><use href="#B" x="570"/><use href="#R" x="600"/><use href="#Y" x="630"/><use href="#B" x="660"/><use href="#O" x="690"/>
<use href="#o" x="735"/><use href="#o" x="780"/><use href="#o" x="810"/><use href="#b" x="840"/><use href="#y" x="870"/><use href="#r" x="900"/><use href="#g" x="930"/>
<rect class="og" x="735" width="225" height="60"/>
<text class="s1" x="239.5" y="77">200</text><text class="s2" x="239.5" y="90">157488</text><text class="s3" x="239.5" y="103">25.00%</text>
<text class="s1" x="479.5" y="77">200</text><text class="s2" x="479.5" y="90">158288</text><text class="s3" x="479.5" y="103">25.00%</text>
<text class="s1" x="719.5" y="77">200</text><text class="s2" x="719.5" y="90">159088</text><text class="s3" x="719.5" y="103">25.00%</text>
<text class="s1" x="959.5" y="77">175</text><text class="s2" x="959.5" y="90">159788</text><text class="s3" x="959.5" y="103">25.00%</text>
</g>

<g id="row-m97" transform="translate(31,3589.5)">
<use href="#staff"/>
<text class="mn" x="0" y="-7">97</text><text class="mn" x="240" y="-7">98</text><text class="mn" x="480" y="-7">99</text><text class="mn" x="720" y="-7">100</text>
<text class="tp" x="0" y="-20"><tspan class="q">♩</tspan>=127</text><text class="tp" x="120" y="-20"><tspan class="q">♩</tspan>=127</text><text class="tp" x="240" y="-20"><tspan class="q">♩</tspan>=128</text><text class="tp" x="300" y="-20"><tspan class="q">♩</tspan>=127</text><text class="tp" x="480" y="-20"><tspan class="q">♩</tspan>=126</text><text class="tp" x="720" y="-20"><tspan class="q">♩</tspan>=127</text><text class="tp" x="840" y="-20"><tspan class="q">♩</tspan>=126</text>
<path class="sB" d="M15 45H105M360 45H435M900 45H945"/>
<path class="sY" d="M240 30H315"/>
<path class="sO" d="M450 60H600"/>
<use href="#r" x="0"/><use href="#b" x="15"/><use href="#b" x="120"/>
<use href="#Y" x="180"/><use href="#R" x="210"/><use href="#Y" x="240"/><use href="#G" x="330"/><use href="#B" x="360"/><use href="#O" x="450"/><use href="#R" x="660"/><use href="#Y" x="690"/><use href="#B" x="720"/><use href="#B" x="750"/><use href="#B" x="810"/><use href="#B" x="840"/><use href="#B" x="870"/><use href="#B" x="900"/>
<rect class="og" width="120" height="60"/>
<rect class="ob" x="669.4" width="290.6" height="60"/>
<rect class="orr" x="659.6" width="9.8" height="60"/>
<text class="s1" x="239.5" y="77">143</text><text class="s2" x="239.5" y="90">160360</text><text class="s3" x="239.5" y="103">55.10%</text>
<text class="s1" x="479.5" y="77">136</text><text class="s2" x="479.5" y="90">160904</text><text class="s3" x="479.5" y="103">55.10%</text>
<text class="s1" x="719.5" y="77">74</text><text class="s2" x="719.5" y="90">161400</text><text class="s3" x="719.5" y="103">52.52%</text>
<text class="s1" x="959.5" y="77">159</text><text class="s2" x="959.5" y="90">162672</text><text class="s3" x="959.5" y="103">40.02%</text>
</g>

<g id="row-m101" transform="translate(31,3730.5)">
<use href="#staff"/>
<text class="mn" x="0" y="-7">101</text><text class="mn" x="240" y="-7">102</text><text class="mn" x="480" y="-7">103</text><text class="mn" x="720" y="-7">104</text>
<text class="tp" x="0" y="-20"><tspan class="q">♩</tspan>=127</text><text class="tp" x="240" y="-20"><tspan class="q">♩</tspan>=127</text><text class="tp" x="480" y="-20"><tspan class="q">♩</tspan>=127</text><text class="tp" x="720" y="-20"><tspan class="q">♩</tspan>=127</text>
<path class="sY" d="M180 30H225M540 30H590M900 30H945"/>
<path class="sO" d="M300 60H345"/>
<path class="sB" d="M420 45H465M660 45H705M780 45H825"/>
<use href="#R" x="0"/><use href="#B" x="30"/><use href="#G" x="60"/><use href="#Y" x="90"/><use href="#B" x="120"/><use href="#R" x="150"/><use href="#Y" x="180"/><use href="#O" x="240"/><use href="#Y" x="270"/><use href="#O" x="300"/><use href="#B" x="360"/><use href="#Y" x="390"/><use href="#B" x="420"/>
<use href="#Y" x="480"/><use href="#R" x="510"/><use href="#Y" x="540"/><use href="#B" x="600"/><use href="#Y" x="630"/><use href="#B" x="660"/><use href="#B" x="720"/><use href="#Y" x="750"/><use href="#B" x="780"/><use href="#Y" x="840"/><use href="#R" x="870"/><use href="#Y" x="900"/>
<rect class="ob" width="960" height="60"/>
<text class="s1" x="239.5" y="77">184</text><text class="s2" x="239.5" y="90">164144</text><text class="s3" x="239.5" y="103">27.52%</text>
<text class="s1" x="479.5" y="77">168</text><text class="s2" x="479.5" y="90">165488</text><text class="s3" x="479.5" y="103">15.02%</text>
<text class="s1" x="719.5" y="77">170</text><text class="s2" x="719.5" y="90">166848</text><text class="s3" x="719.5" y="103">2.52%</text>
<text class="s1" x="959.5" y="77">168</text><text class="s2" x="959.5" y="90">168192</text><text class="s3" x="959.5" y="103">0.00%</text>
</g>

<g id="row-m105" transform="translate(31,3871.5)">
<use href="#staff"/>
<text class="mn" x="0" y="-7">105</text><text class="mn" x="240" y="-7">106</text><text class="mn" x="480" y="-7">107</text><text class="mn" x="720" y="-7">108</text>
<text class="tp" x="0" y="-20"><tspan class="q">♩</tspan>=127</text><text class="tp" x="240" y="-20"><tspan class="q">♩</tspan>=127</text><text class="tp" x="480" y="-20"><tspan class="q">♩</tspan>=127</text><text class="tp" x="600" y="-20"><tspan class="q">♩</tspan>=127</text><text class="tp" x="720" y="-20"><tspan class="q">♩</tspan>=127</text>
<path class="sB" d="M60 45H105M180 45H225M420 45H465M540 45H585M780 45H825"/>
<path class="sY" d="M300 30H345M660 30H705"/>
<path class="sO" d="M840 60H915"/>
<use href="#B" x="0"/><use href="#Y" x="30"/><use href="#B" x="60"/><use href="#B" x="120"/><use href="#Y" x="150"/><use href="#B" x="180"/><use href="#Y" x="240"/><use href="#R" x="270"/><use href="#Y" x="300"/><use href="#B" x="360"/><use href="#Y" x="390"/><use href="#B" x="420"/>
<use href="#B" x="480"/><use href="#Y" x="510"/><use href="#B" x="540"/><use href="#Y" x="600"/><use href="#R" x="630"/><use href="#Y" x="660"/><use href="#B" x="720"/><use href="#Y" x="750"/><use href="#B" x="780"/><use href="#O" x="840"/><use href="#Y" x="930"/>
<rect class="ob" width="286.8" height="60"/>
<rect class="orr" x="286.8" width="13.2" height="60"/>
<text class="s1" x="239.5" y="77">168</text><text class="s2" x="239.5" y="90">169536</text><text class="s3" x="239.5" y="103">0.00%</text>
<text class="s1" x="479.5" y="77">168</text><text class="s2" x="479.5" y="90">170508</text><text class="s3" x="479.5" y="103">0.00%</text>
<text class="s1" x="719.5" y="77">168</text><text class="s2" x="719.5" y="90">171180</text><text class="s3" x="719.5" y="103">0.00%</text>
<text class="s1" x="959.5" y="77">149</text><text class="s2" x="959.5" y="90">171776</text><text class="s3" x="959.5" y="103">0.00%</text>
</g>

<g id="row-m109" transform="translate(31,4012.5)">
<use href="#staff"/>
<text class="mn" x="0" y="-7">109</text><text class="mn" x="240" y="-7">110</text><text class="mn" x="480" y="-7">111</text><text class="mn" x="720" y="-7">112</text>
<text class="tp" x="0" y="-20"><tspan class="q">♩</tspan>=127</text><text class="tp" x="240" y="-20"><tspan class="q">♩</tspan>=127</text><text class="tp" x="480" y="-20"><tspan class="q">♩</tspan>=127</text>
<path class="sY" d="M30 30H105"/>
<path class="sR" d="M120 15H225"/>
<use href="#B" x="0"/><use href="#Y" x="30"/><use href="#R" x="120"/>
<text class="s1" x="239.5" y="77">111</text><text class="s2" x="239.5" y="90">172220</text><text class="s3" x="239.5" y="103">0.00%</text>
<text class="s1" x="479.5" y="77">0</text><text class="s2" x="479.5" y="90">172220</text><text class="s3" x="479.5" y="103">0.00%</text>
<text class="s1" x="719.5" y="77">0</text><text class="s2" x="719.5" y="90">172220</text><text class="s3" x="719.5" y="103">0.00%</text>
<text class="s1" x="959.5" y="77">0</text><text class="s2" x="959.5" y="90">172220</text><text class="s3" x="959.5" y="103">0.00%</text>
<rect class="obr" x="240" y="-10" width="720" height="80"/>
</g>

<g id="row-m113" transform="translate(31,4153.5)">
<use href="#staff1"/>
<text class="mn" x="0" y="-7">113</text>
<use href="#R" x="120"/><use href="#O" x="120"/>
<text class="s1" x="239.5" y="77">0</text><text class="s2" x="239.5" y="90">175809</text><text class="s3" x="239.5" y="103">0.00%</text>
</g>
</g>
</svg>
